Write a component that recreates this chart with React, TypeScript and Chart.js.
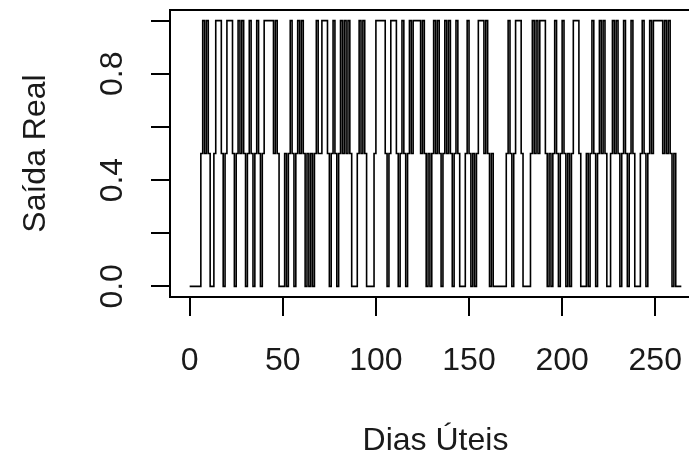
import React, { useEffect, useRef } from "react";
import { Chart, registerables } from "chart.js";

Chart.register(...registerables);

// Saída Real por dia útil (índice 0..264)
const saidaReal: number[] = [
  0, 0, 0, 0, 0, 0, 0.5, 1, 0.5, 1, 0.5, 0, 0, 0.5, 1, 1, 1, 0.5, 0, 0.5, 1, 1, 1, 0.5, 0, 0.5, 1, 0.5, 1, 0.5, 0, 0.5, 1, 0.5, 0, 0.5, 1, 0.5, 0, 0.5, 1,
  1, 1, 1, 1, 0.5, 1, 0.5, 0, 0, 0, 0.5, 0, 0.5, 1, 0.5, 0, 0.5, 1, 0.5, 1, 0.5, 0, 0.5, 0, 0.5, 0, 0.5, 1, 0.5, 0.5, 1, 1, 1, 0.5, 0, 0.5, 1, 0.5, 0, 0.5, 1, 0.5, 1, 0.5,
  1, 0.5, 0, 0, 0, 0.5, 1, 0.5, 1, 0.5, 0, 0, 0, 0, 0.5, 1, 1, 1, 1, 1, 0.5, 0, 0.5, 1, 1, 1, 0.5, 0, 0.5, 1, 0.5, 0, 0.5, 1, 0.5, 1, 1, 1, 1, 0.5, 1, 0.5, 0, 0.5,
  0, 0.5, 1, 0.5, 1, 0.5, 0, 0.5, 1, 0.5, 1, 0.5, 0, 0.5, 1, 0.5, 0, 0, 0, 0.5, 1, 0.5, 0, 0.5, 0, 0.5, 1, 1, 1, 0.5, 1, 0.5, 0, 0.5, 0, 0, 0, 0, 0, 0, 0, 0.5, 1, 0.5,
  0, 0.5, 1, 1, 1, 0.5, 0, 0, 0, 0, 0.5, 1, 0.5, 1, 0.5, 1, 1, 1, 0.5, 0, 0.5, 0, 0.5, 1, 0.5, 0, 0.5, 1, 0.5, 0, 0.5, 0, 0.5, 1, 1, 1, 0.5, 0, 0, 0, 0.5, 0, 0.5, 1, 0.5,
  0, 0.5, 1, 0.5, 1, 0.5, 0, 0, 0.5, 1, 0.5, 1, 0.5, 0, 0.5, 1, 0.5, 0, 0.5, 1, 0.5, 0, 0, 0, 0.5, 1, 0.5, 0, 0.5, 1, 0.5, 1, 1, 1, 1, 1, 0.5, 1, 0.5, 1, 0.5, 0, 0.5, 0, 0, 0, 0,
];

const xTickValues: number[] = [0, 50, 100, 150, 200, 250];
const yTickValues: number[] = [0, 0.2, 0.4, 0.6, 0.8, 1.0];
const yTickLabels: number[] = [0, 0.4, 0.8];
const xTitle = "Dias Úteis";
const yTitle = "Saída Real";

export default function App() {
  const ref = useRef<HTMLCanvasElement>(null);

  useEffect(() => {
    document.body.style.margin = "0";
    const canvas = ref.current;
    if (!canvas) return;
    const FONT = '32px "Liberation Sans", Arial, sans-serif';

    const framePlugin = {
      id: "rframe",
      afterDraw(chart: any) {
        const { ctx, chartArea: a, scales } = chart;
        const xs = scales.x;
        const ys = scales.y;
        ctx.save();
        ctx.strokeStyle = "#000";
        ctx.lineWidth = 2;
        ctx.beginPath();
        ctx.moveTo(a.right, a.top);
        ctx.lineTo(a.left, a.top);
        ctx.lineTo(a.left, a.bottom);
        ctx.lineTo(a.right, a.bottom);
        ctx.stroke();

        ctx.fillStyle = "#1a1a1a";
        ctx.font = FONT;
        ctx.textAlign = "center";
        ctx.textBaseline = "alphabetic";
        xTickValues.forEach((v) => ctx.fillText(String(v), xs.getPixelForValue(v), 370));
        ctx.fillText(xTitle, (a.left + a.right) / 2, 450);

        yTickLabels.forEach((v) => {
          ctx.save();
          ctx.translate(122, ys.getPixelForValue(v));
          ctx.rotate(-Math.PI / 2);
          ctx.fillText(v.toFixed(1), 0, 0);
          ctx.restore();
        });

        ctx.save();
        ctx.translate(45, (a.top + a.bottom) / 2);
        ctx.rotate(-Math.PI / 2);
        ctx.fillText(yTitle, 0, 0);
        ctx.restore();
        ctx.restore();
      },
    };

    const chart = new Chart(canvas, {
      type: "line",
      data: {
        datasets: [
          {
            data: saidaReal.map((v, i) => ({ x: i, y: v })),
            stepped: "before",
            borderColor: "#000",
            borderWidth: 1.6,
            pointRadius: 0,
            fill: false,
            tension: 0,
          },
        ],
      },
      options: {
        responsive: false,
        animation: false,
        events: [],
        layout: { padding: { left: 0, right: 19, top: 10, bottom: 0 } },
        plugins: { legend: { display: false }, tooltip: { enabled: false }, title: { display: false } },
        scales: {
          x: {
            type: "linear",
            min: -10.56,
            max: 274.56,
            afterBuildTicks: (s: any) => {
              s.ticks = xTickValues.map((v) => ({ value: v }));
            },
            afterFit: (s: any) => {
              s.height = 158;
            },
            grid: { drawOnChartArea: false, tickLength: 19, color: "#000", lineWidth: 2 },
            border: { display: false },
            ticks: { display: false },
          },
          y: {
            type: "linear",
            min: -0.04,
            max: 1.04,
            afterBuildTicks: (s: any) => {
              s.ticks = yTickValues.map((v) => ({ value: v }));
            },
            afterFit: (s: any) => {
              s.width = 170;
            },
            grid: { drawOnChartArea: false, tickLength: 19, color: "#000", lineWidth: 2 },
            border: { display: false },
            ticks: { display: false },
          },
        },
      },
      plugins: [framePlugin],
    } as any);

    return () => chart.destroy();
  }, []);

  return (
    <div style={{ position: "absolute", left: 0, top: 0, width: 689, height: 455, overflow: "hidden", background: "#fff" }}>
      <canvas ref={ref} width={720} height={455} style={{ display: "block", width: 720, height: 455 }} />
    </div>
  );
}
